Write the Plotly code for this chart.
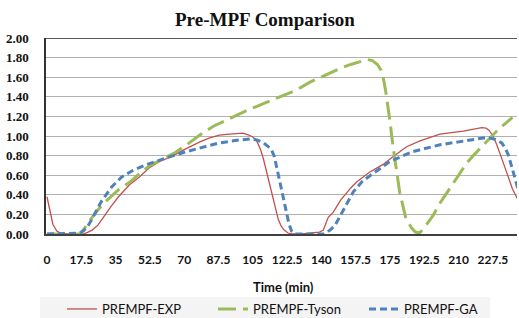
import plotly.graph_objects as go

# ---- data (time in min, value) ----
exp_t = [0, 1.5, 3, 5, 7, 10, 15, 18.5, 21, 23, 26, 28, 30.5, 33, 36.5, 42, 47, 52.5, 57.5, 63.5,
         69, 74, 78, 83, 88, 93, 97.5, 100, 103, 105, 107, 109, 110.5, 112, 113.5, 115, 116.5,
         118, 119.5, 121, 123, 125, 130, 136, 139, 141, 142.5, 143.5, 146, 148, 150, 152.5, 155,
         158, 161, 164.5, 168, 171.5, 176, 183.5, 190.3, 200.5, 212.4, 218, 221.8, 224, 225.5,
         227.5, 229.5, 231.5, 233.5, 235.5, 237.5, 239, 240.3]
exp_v = [0.38, 0.22, 0.10, 0.03, 0.01, 0.0, 0.0, 0.0, 0.02, 0.04, 0.09, 0.15, 0.22, 0.29, 0.38, 0.50,
         0.58, 0.68, 0.74, 0.79, 0.85, 0.90, 0.94, 0.98, 1.01, 1.02, 1.03, 1.03, 1.01, 0.99, 0.95,
         0.86, 0.76, 0.64, 0.52, 0.38, 0.26, 0.15, 0.08, 0.04, 0.01, 0.0, 0.0, 0.01, 0.02, 0.04,
         0.12, 0.17, 0.22, 0.28, 0.35, 0.41, 0.47, 0.53, 0.58, 0.63, 0.67, 0.71, 0.78, 0.89, 0.95,
         1.02, 1.05, 1.07, 1.085, 1.08, 1.06, 1.00, 0.91, 0.80, 0.68, 0.56, 0.46, 0.40, 0.35]

tyson_t = [0, 10, 16.8, 18.5, 20.2, 22.5, 24.5, 27, 30.4, 36.4, 42.3, 47.4, 52.6, 58.5, 64.5, 71.3,
           78, 84.9, 93.4, 101.9, 110.4, 118.9, 127.4, 134.2, 141.5, 149.5, 155, 159.7, 163.5,
           166, 168.6, 170.5, 171.7, 172.8, 173.8, 175, 176.5, 178, 180, 183, 186, 188, 190, 192,
           194, 197, 200, 203, 206, 210, 214, 218, 222, 226, 231, 237.5]
tyson_v = [0.0, 0.0, 0.0, 0.04, 0.09, 0.15, 0.21, 0.27, 0.34, 0.45, 0.53, 0.62, 0.70, 0.76, 0.82,
           0.91, 1.01, 1.10, 1.18, 1.26, 1.33, 1.40, 1.47, 1.55, 1.62, 1.69, 1.73, 1.76, 1.78, 1.77,
           1.73, 1.67, 1.58, 1.46, 1.33, 1.15, 0.90, 0.68, 0.42, 0.17, 0.06, 0.02, 0.01, 0.05, 0.11,
           0.19, 0.30, 0.39, 0.49, 0.60, 0.72, 0.81, 0.90, 0.98, 1.08, 1.19]

ga_t = [0, 5, 10, 16.5, 18.5, 20.5, 23.5, 26, 28, 30.5, 33, 38, 44, 51, 58, 64.5, 71, 78, 88, 98.5,
        104, 107, 110.5, 113, 114.5, 116, 117.2, 118.5, 119.7, 121, 122.3, 123.5, 124.8, 126.5,
        135, 141, 143, 145, 147, 150, 153, 156.3, 161, 165, 168, 175, 186.4, 200.5, 212.4, 222.6,
        226, 229.4, 232, 234, 235.5, 237, 238.5, 240.3]
ga_v = [0.0, 0.0, 0.005, 0.01, 0.03, 0.07, 0.17, 0.27, 0.34, 0.41, 0.48, 0.58, 0.65, 0.71, 0.76,
        0.80, 0.84, 0.88, 0.93, 0.96, 0.97, 0.96, 0.93, 0.89, 0.86, 0.79, 0.69, 0.57, 0.45, 0.33,
        0.21, 0.10, 0.03, 0.0, 0.0, 0.0, 0.02, 0.05, 0.09, 0.20, 0.30, 0.43, 0.54, 0.60, 0.64,
        0.74, 0.84, 0.91, 0.95, 0.98, 0.98, 0.96, 0.93, 0.87, 0.80, 0.70, 0.60, 0.46]

x_ticks = [0, 17.5, 35, 52.5, 70, 87.5, 105, 122.5, 140, 157.5, 175, 192.5, 210, 227.5]
x_tick_text = ["0", "17.5", "35", "52.5", "70", "87.5", "105", "122.5", "140", "157.5", "175",
               "192.5", "210", "227.5"]
y_ticks = [0, 0.2, 0.4, 0.6, 0.8, 1.0, 1.2, 1.4, 1.6, 1.8, 2.0]

fig = go.Figure()
fig.add_trace(go.Scatter(x=exp_t, y=exp_v, mode="lines", name="PREMPF-EXP",
                         line=dict(color="#c0504d", width=1.3)))
fig.add_trace(go.Scatter(x=tyson_t, y=tyson_v, mode="lines", name="PREMPF-Tyson",
                         line=dict(color="#9bbb59", width=3, dash="18px,7px")))
fig.add_trace(go.Scatter(x=ga_t, y=ga_v, mode="lines", name="PREMPF-GA",
                         line=dict(color="#4f81bd", width=3, dash="7px,4px")))

W, H = 519, 318
ml, mr, mt, mb = 46, 2, 38, 84
pw, ph = W - ml - mr, H - mt - mb

def px_x(p):
    return (p - ml) / pw

def px_y(p):
    return (H - mb - p) / ph

fig.update_layout(
    width=W, height=H,
    margin=dict(l=ml, r=mr, t=mt, b=mb, pad=0, autoexpand=False),
    paper_bgcolor="white", plot_bgcolor="white",
    showlegend=True,
    legend=dict(orientation="h", x=px_x(62), xanchor="left", y=px_y(309), yanchor="middle",
                font=dict(family="Lato", size=13, color="#111"), bgcolor="rgba(0,0,0,0)",
                traceorder="normal", entrywidth=106, entrywidthmode="pixels"),
    xaxis=dict(range=[-0.5, 239.8], tickvals=x_ticks, ticktext=x_tick_text, showgrid=False,
               zeroline=False, showline=True, linecolor="#404040", linewidth=2,
               ticks="outside", ticklen=14, tickcolor="rgba(0,0,0,0)", automargin=False,
               tickfont=dict(family="Lato", size=12, color="#111", weight="bold")),
    yaxis=dict(range=[0, 2], tickvals=y_ticks, tickformat=".2f", showgrid=True,
               gridcolor="#b0b0b0", gridwidth=1, zeroline=False, showline=True,
               linecolor="#333", linewidth=1.5, ticks="outside", ticklen=13,
               tickcolor="rgba(0,0,0,0)", automargin=False,
               tickfont=dict(family="Liberation Serif", size=13, color="#111", weight="bold")),
    shapes=[
        dict(type="line", xref="paper", yref="y", x0=0, x1=1, y0=2, y1=2,
             line=dict(color="#222", width=1.5)),
        dict(type="rect", xref="paper", yref="paper", x0=px_x(40), x1=px_x(490),
             y0=px_y(318), y1=px_y(297), fillcolor="#f4f4f4", line=dict(width=0), layer="below"),
    ],
    annotations=[
        dict(text="<b>Pre-MPF Comparison</b>", xref="paper", yref="paper", x=px_x(265),
             y=px_y(19), xanchor="center", yanchor="middle", showarrow=False,
             font=dict(family="Liberation Serif", size=19, color="#111")),
        dict(text="<b>Time (min)</b>", xref="paper", yref="paper", x=px_x(283),
             y=px_y(287), xanchor="center", yanchor="middle", showarrow=False,
             font=dict(family="Lato", size=13, color="#111")),
    ],
)

fig.write_html("out.html", config={"displayModeBar": False},
               post_script="document.body.style.margin='0';document.body.style.overflow='hidden';")
